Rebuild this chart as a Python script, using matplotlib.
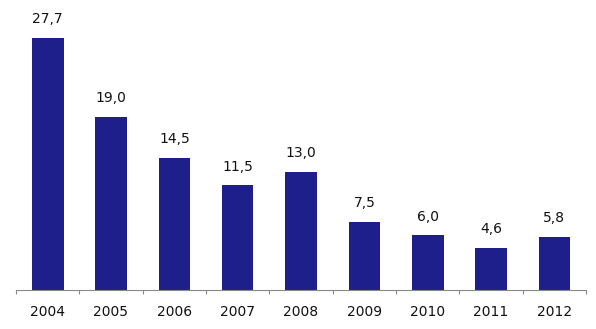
import matplotlib; matplotlib.use("Agg")
import matplotlib.pyplot as plt
import numpy as np

years = ["2004", "2005", "2006", "2007", "2008", "2009", "2010", "2011", "2012"]
values = [27.7, 19.0, 14.5, 11.5, 13.0, 7.5, 6.0, 4.6, 5.8]

fig = plt.figure(figsize=(5.96, 3.29), dpi=100)
ax = fig.add_axes([16 / 596, 39 / 329, 570 / 596, 273 / 329])

x = np.arange(len(years))
bars = ax.bar(x, values, width=0.5, color="#1F1F8C")

for xi, v in zip(x, values):
    ax.annotate(f"{v:.1f}".replace(".", ","), (xi, v), xytext=(0, 8.5),
                textcoords="offset points", ha="center", va="bottom",
                fontsize=10, color="#111111")

ax.set_xlim(-0.5, len(years) - 0.5)
ax.set_ylim(0, 30)
ax.set_xticks(x)
ax.set_xticklabels(years, fontsize=10, color="#111111")
ax.set_xticks(np.arange(len(years) + 1) - 0.5, minor=True)
ax.tick_params(axis="x", which="major", length=0, pad=10.5)
ax.tick_params(axis="x", which="minor", length=3, color="#888888", width=0.8)
ax.set_yticks([])
for s in ["top", "right", "left"]:
    ax.spines[s].set_visible(False)
ax.spines["bottom"].set_color("#888888")
ax.spines["bottom"].set_linewidth(0.8)

fig.savefig("out.png", dpi=100)
